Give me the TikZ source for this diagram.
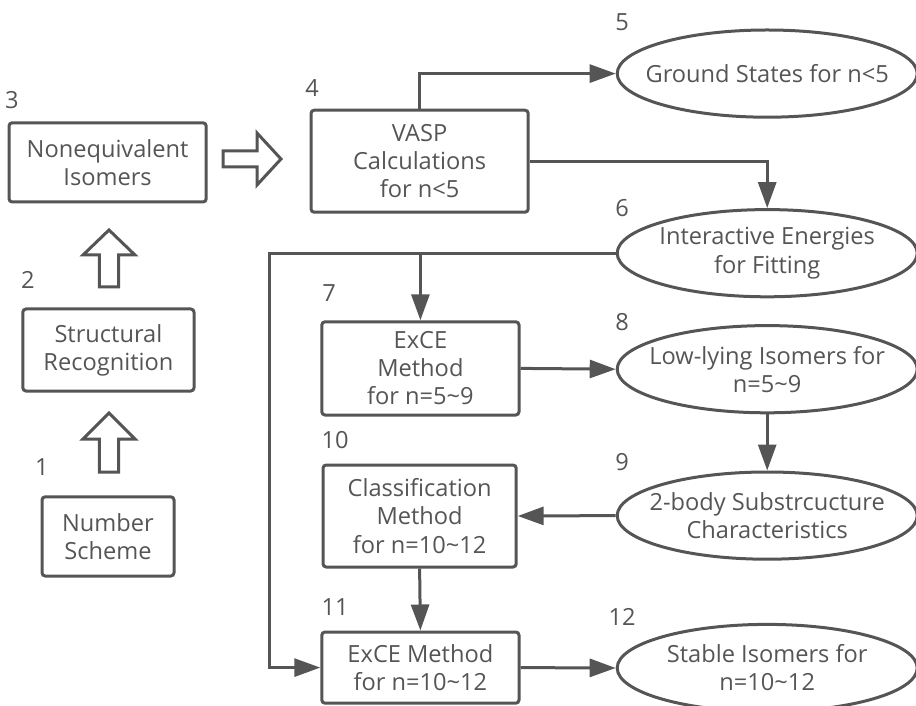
\documentclass[tikz,border=0pt]{standalone}
\usepackage{fontspec}
\setmainfont{Open Sans}
\usetikzlibrary{shapes.geometric,arrows.meta}
\definecolor{ink}{HTML}{555555}

\begin{document}
\begin{tikzpicture}[
    font=\fontsize{16.8}{20}\selectfont,
    color=ink, line width=0.075cm,
    box/.style={draw, rounded corners=0.08cm, align=center, inner sep=0pt},
    oval/.style={draw, ellipse, align=center, inner xsep=-0.8cm, inner ysep=0pt,
      minimum width=7.5cm, minimum height=2.18cm},
    flow/.style={-{Triangle[length=0.65cm,width=0.45cm]}},
    hollow/.style={line join=miter}
  ]
    \useasboundingbox (0,0) rectangle (22.9,-17.65);

    % left column
    \node[box, minimum width=4.93cm, minimum height=1.98cm] (iso) at (2.69,-4.06) {Nonequivalent\\Isomers};
    \node[box, minimum width=4.28cm, minimum height=2.05cm] (recog) at (2.71,-8.75) {Structural\\Recognition};
    \node[box, minimum width=3.30cm, minimum height=1.98cm] (scheme) at (2.70,-13.41) {Number\\Scheme};

    % middle column
    \node[box, minimum width=5.43cm, minimum height=2.55cm] (vasp) at (10.49,-4.03) {VASP\\Calculations\\for n<5};
    \node[box, minimum width=4.93cm, minimum height=2.33cm] (exce) at (10.51,-9.21) {ExCE\\Method\\for n=5\textasciitilde9};
    \node[box, minimum width=4.83cm, minimum height=2.55cm] (classify) at (10.49,-12.9) {Classification\\Method\\for n=10\textasciitilde12};
    \node[box, minimum width=4.93cm, minimum height=1.78cm] (excebig) at (10.51,-16.69) {ExCE Method\\for n=10\textasciitilde12};

    % right column
    \node[oval] (ground) at (19.18,-1.84) {Ground States for n<5};
    \node[oval] (energy) at (19.18,-6.33) {Interactive Energies\\for Fitting};
    \node[oval] (lowlying) at (19.18,-9.23) {Low-lying Isomers for\\n=5\textasciitilde9};
    \node[oval] (twobody) at (19.18,-12.89) {2-body Substrcucture\\Characteristics};
    \node[oval] (stable) at (19.18,-16.7) {Stable Isomers for\\n=10\textasciitilde12};

    % step numbers
    \node (l1) at (1.05,-11.68) {1};
    \node (l2) at (0.7,-7.0) {2};
    \node (l3) at (0.3,-2.5) {3};
    \node (l4) at (7.8,-2.2) {4};
    \node (l5) at (15.55,-0.55) {5};
    \node (l6) at (15.55,-5.2) {6};
    \node (l7) at (8.23,-7.33) {7};
    \node (l8) at (15.55,-8.05) {8};
    \node (l9) at (15.55,-11.55) {9};
    \node (l10) at (8.38,-11.0) {10};
    \node (l11) at (8.38,-15.18) {11};
    \node (l12) at (15.55,-15.43) {12};

    % hollow arrows
    \draw[hollow, shift={(2.725,-10.325)}] (0,0) -- (0.65,-0.65) -- (0.24,-0.65) -- (0.24,-1.475)
      -- (-0.24,-1.475) -- (-0.24,-0.65) -- (-0.65,-0.65) -- cycle;
    \draw[hollow, shift={(2.725,-5.75)}] (0,0) -- (0.65,-0.625) -- (0.24,-0.625) -- (0.24,-1.425)
      -- (-0.24,-1.425) -- (-0.24,-0.625) -- (-0.65,-0.625) -- cycle;
    \draw[hollow, shift={(7.025,-3.975)}] (0,0) -- (-0.6,0.65) -- (-0.6,0.2) -- (-1.45,0.2)
      -- (-1.45,-0.2) -- (-0.6,-0.2) -- (-0.6,-0.65) -- cycle;

    % connectors
    \coordinate (rail) at (6.73,0);
    \draw[flow] (vasp.north) |- (ground.west);
    \draw[flow] (vasp.east) -| (energy.north);
    \draw[flow] (energy.west) -| (exce.north);
    \draw[flow] (energy.west) -| (rail |- excebig.west) -- (excebig.west);
    \draw[flow] (exce.east) -- (lowlying.west);
    \draw[flow] (lowlying.south) -- (twobody.north);
    \draw[flow] (twobody.west) -- (classify.east);
    \draw[flow] (classify.south) -- (excebig.north);
    \draw[flow] (excebig.east) -- (stable.west);
  \end{tikzpicture}
\end{document}
